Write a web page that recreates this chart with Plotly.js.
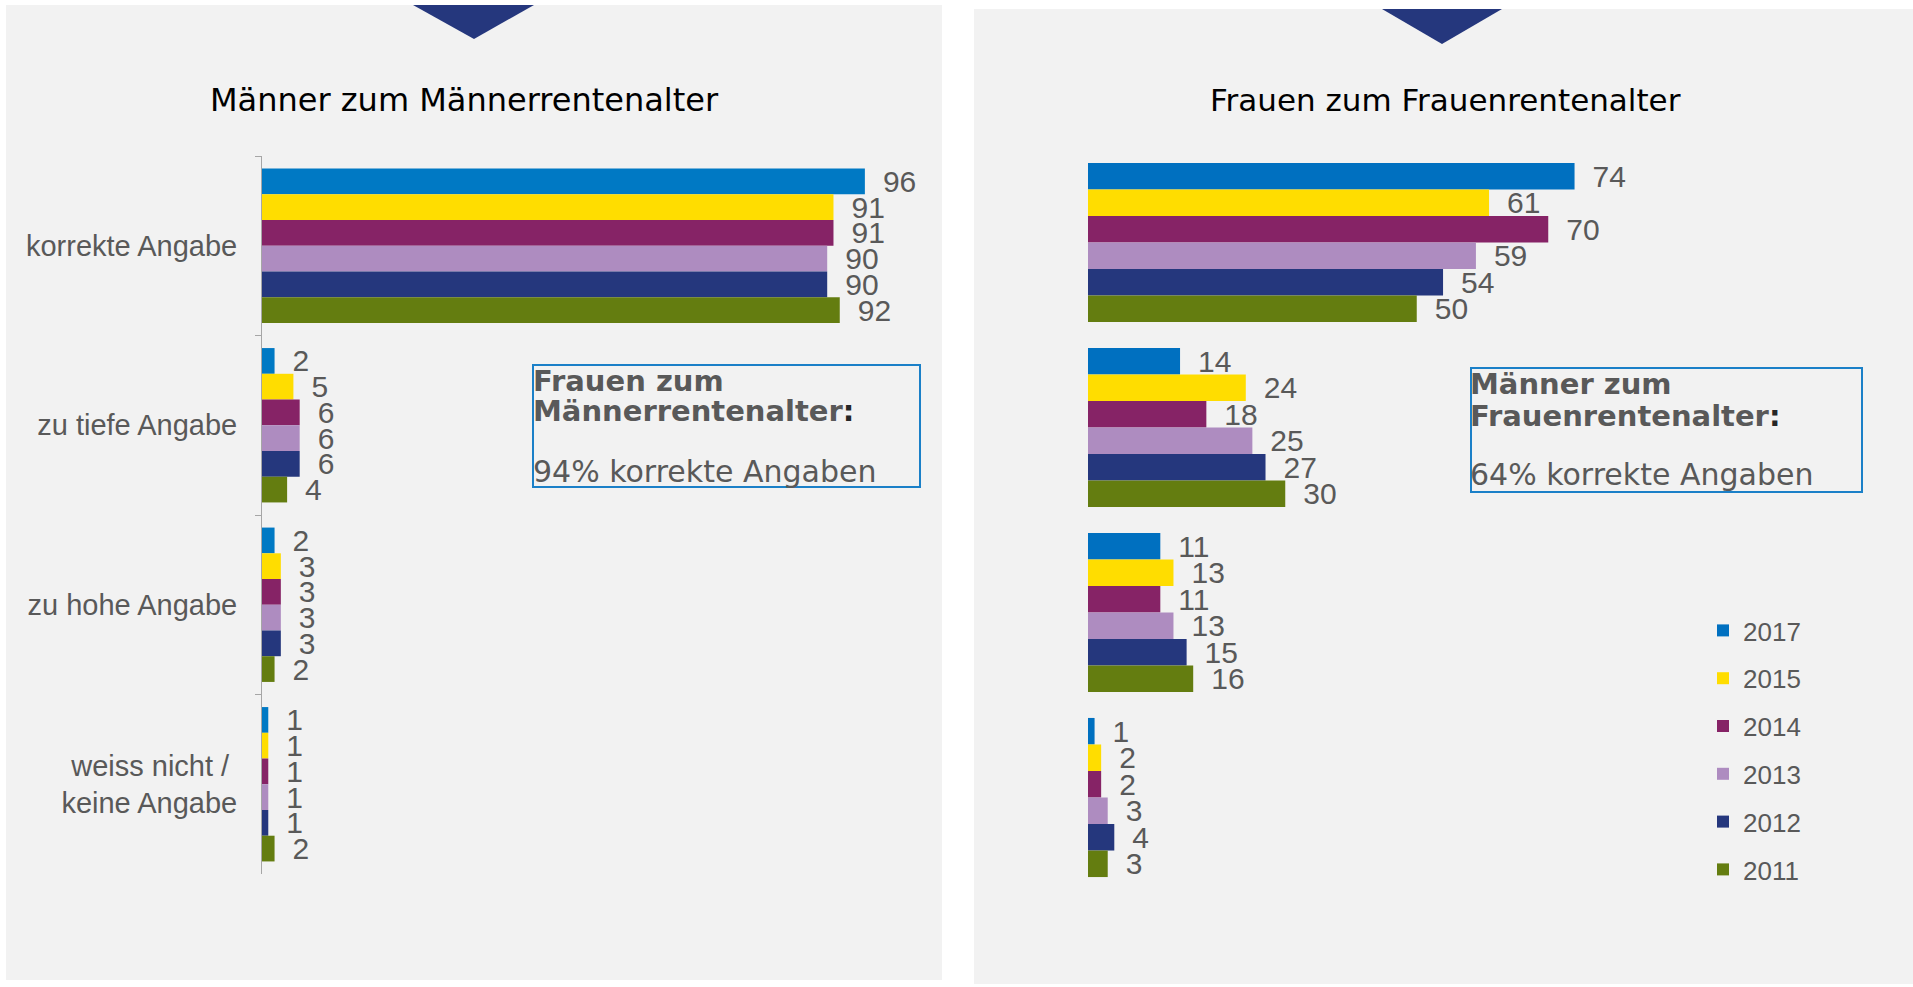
<!DOCTYPE html>
<html>
<head>
<meta charset="utf-8">
<script src="https://cdn.plot.ly/plotly-3.0.1.min.js"></script>
<style>
html, body { margin: 0; padding: 0; background: #ffffff; }
#chart { width: 1913px; height: 987px; }
</style>
</head>
<body>
<div id="chart"></div>
<script>
// ---- data ----
const categories = ['korrekte Angabe', 'zu tiefe Angabe', 'zu hohe Angabe', 'weiss nicht /\u00A0<br>keine Angabe'];
const years = ['2017', '2015', '2014', '2013', '2012', '2011'];

// Männer zum Männerrentenalter (left panel)
const men2017 = [96, 2, 2, 1];
const men2015 = [91, 5, 3, 1];
const men2014 = [91, 6, 3, 1];
const men2013 = [90, 6, 3, 1];
const men2012 = [90, 6, 3, 1];
const men2011 = [92, 4, 2, 2];

// Frauen zum Frauenrentenalter (right panel)
const women2017 = [74, 14, 11, 1];
const women2015 = [61, 24, 13, 2];
const women2014 = [70, 18, 11, 2];
const women2013 = [59, 25, 13, 3];
const women2012 = [54, 27, 15, 4];
const women2011 = [50, 30, 16, 3];

const leftTitle = 'Männer zum Männerrentenalter';
const rightTitle = 'Frauen zum Frauenrentenalter';
const leftBoxHead1 = 'Frauen zum';
const leftBoxHead2 = 'Männerrentenalter';
const leftBoxValue = '94% korrekte Angaben';
const rightBoxHead1 = 'Männer zum';
const rightBoxHead2 = 'Frauenrentenalter';
const rightBoxValue = '64% korrekte Angaben';

// ---- styling ----
const W = 1913, H = 987;
const colorsLeft = ['#0079C4', '#FFDD00', '#862366', '#AE8CC0', '#25377D', '#647D10'];
const colorsRight = ['#0070C0', '#FFDD00', '#862366', '#AE8CC0', '#25377D', '#647D10'];
const labelGray = '#595959';
const valueFont = { family: 'Liberation Sans, Arial, sans-serif', size: 30, color: labelGray };
const catFont = { family: 'Liberation Sans, Arial, sans-serif', size: 29, color: labelGray };

const px = x => x / W;
const py = y => 1 - y / H;

const menSeries = [men2017, men2015, men2014, men2013, men2012, men2011];
const womenSeries = [women2017, women2015, women2014, women2013, women2012, women2011];

const lbl = v => '\u2002' + v;

const traces = [];
years.forEach((yr, i) => {
  traces.push({
    type: 'bar', orientation: 'h', name: yr,
    x: menSeries[i], y: categories,
    xaxis: 'x', yaxis: 'y',
    marker: { color: colorsLeft[i] },
    text: menSeries[i].map(lbl), textposition: 'outside',
    textfont: valueFont, constraintext: 'none', cliponaxis: false,
    showlegend: false, hoverinfo: 'skip'
  });
});
years.forEach((yr, i) => {
  traces.push({
    type: 'bar', orientation: 'h', name: yr,
    x: womenSeries[i], y: categories,
    xaxis: 'x2', yaxis: 'y2',
    marker: { color: colorsRight[i] },
    text: womenSeries[i].map(lbl), textposition: 'outside',
    textfont: valueFont, constraintext: 'none', cliponaxis: false,
    legendgroup: 'g' + yr,
    showlegend: true, hoverinfo: 'skip'
  });
});

const shapes = [
  // panel backgrounds
  { type: 'rect', xref: 'paper', yref: 'paper', x0: px(6), x1: px(942), y0: py(980), y1: py(5),
    fillcolor: '#F2F2F2', line: { width: 0 }, layer: 'below' },
  { type: 'rect', xref: 'paper', yref: 'paper', x0: px(974), x1: px(1913), y0: py(984), y1: py(9),
    fillcolor: '#F2F2F2', line: { width: 0 }, layer: 'below' },
  // triangles
  { type: 'path', xref: 'paper', yref: 'paper',
    path: `M ${px(413)} ${py(5)} L ${px(534)} ${py(5)} L ${px(474)} ${py(39)} Z`,
    fillcolor: '#25377D', line: { width: 0 } },
  { type: 'path', xref: 'paper', yref: 'paper',
    path: `M ${px(1382)} ${py(9)} L ${px(1502)} ${py(9)} L ${px(1442)} ${py(44)} Z`,
    fillcolor: '#25377D', line: { width: 0 } },
  // info boxes
  { type: 'rect', xref: 'paper', yref: 'paper', x0: px(533), x1: px(920), y0: py(487), y1: py(365),
    fillcolor: 'rgba(0,0,0,0)', line: { color: '#1B80C8', width: 2 } },
  { type: 'rect', xref: 'paper', yref: 'paper', x0: px(1471), x1: px(1862), y0: py(492), y1: py(368),
    fillcolor: 'rgba(0,0,0,0)', line: { color: '#1B80C8', width: 2 } }
];

const boxBold = { family: 'DejaVu Sans, Verdana, sans-serif', size: 29, color: labelGray };
const boxNormal = { family: 'DejaVu Sans, Verdana, sans-serif', size: 30, color: labelGray };
function boxLine(x, yBase, txt, font) {
  return { xref: 'paper', yref: 'paper', x: px(x), y: py(yBase - 10), xanchor: 'left', yanchor: 'middle',
    text: txt, showarrow: false, font: font, align: 'left' };
}

const annotations = [
  { xref: 'paper', yref: 'paper', x: px(464), y: py(100), xanchor: 'center', yanchor: 'middle',
    text: leftTitle, showarrow: false,
    font: { family: 'DejaVu Sans, Verdana, sans-serif', size: 32, color: '#000000' } },
  { xref: 'paper', yref: 'paper', x: px(1445), y: py(100), xanchor: 'center', yanchor: 'middle',
    text: rightTitle, showarrow: false,
    font: { family: 'DejaVu Sans, Verdana, sans-serif', size: 31, color: '#000000' } },
  boxLine(531, 391, '<b>' + leftBoxHead1 + '</b>', boxBold),
  boxLine(531, 421, '<b>' + leftBoxHead2 + '<span style="color:#262626">:</span></b>', boxBold),
  boxLine(531, 481, leftBoxValue, boxNormal),
  boxLine(1468, 394, '<b>' + rightBoxHead1 + '</b>', boxBold),
  boxLine(1468, 426, '<b>' + rightBoxHead2 + '<span style="color:#262626">:</span></b>', boxBold),
  boxLine(1468, 484, rightBoxValue, boxNormal)
];

const layout = {
  width: W, height: H,
  margin: { l: 0, r: 0, t: 0, b: 0 },
  paper_bgcolor: '#ffffff',
  plot_bgcolor: 'rgba(0,0,0,0)',
  barmode: 'group',
  bargap: 0.14,
  bargroupgap: 0,
  showlegend: true,
  hovermode: false,
  xaxis: { domain: [px(262), px(890)], range: [0, 100], visible: false, fixedrange: true },
  yaxis: {
    domain: [py(874), py(156)], anchor: 'x',
    type: 'category', categoryorder: 'array', categoryarray: categories,
    autorange: 'reversed',
    showline: true, linecolor: '#A6A6A6', linewidth: 1,
    ticks: 'outside', tickson: 'boundaries', ticklen: 6, tickcolor: '#A6A6A6',
    showgrid: false, zeroline: false,
    tickfont: catFont, ticklabelstandoff: 18, fixedrange: true
  },
  xaxis2: { domain: [px(1088), px(1614)], range: [0, 80], visible: false, anchor: 'y2', fixedrange: true },
  yaxis2: {
    domain: [py(890), py(150)], anchor: 'x2',
    type: 'category', categoryorder: 'array', categoryarray: categories,
    autorange: 'reversed',
    showline: false, showticklabels: false, ticks: '', showgrid: false, zeroline: false, fixedrange: true
  },
  legend: {
    x: px(1703), y: py(607), xanchor: 'left', yanchor: 'top',
    bgcolor: 'rgba(0,0,0,0)', borderwidth: 0,
    font: { family: 'Liberation Sans, Arial, sans-serif', size: 26, color: labelGray },
    traceorder: 'grouped', tracegroupgap: 11, itemclick: false, itemdoubleclick: false
  },
  shapes: shapes,
  annotations: annotations
};

Plotly.newPlot('chart', traces, layout, { displayModeBar: false, staticPlot: true });
</script>
</body>
</html>
